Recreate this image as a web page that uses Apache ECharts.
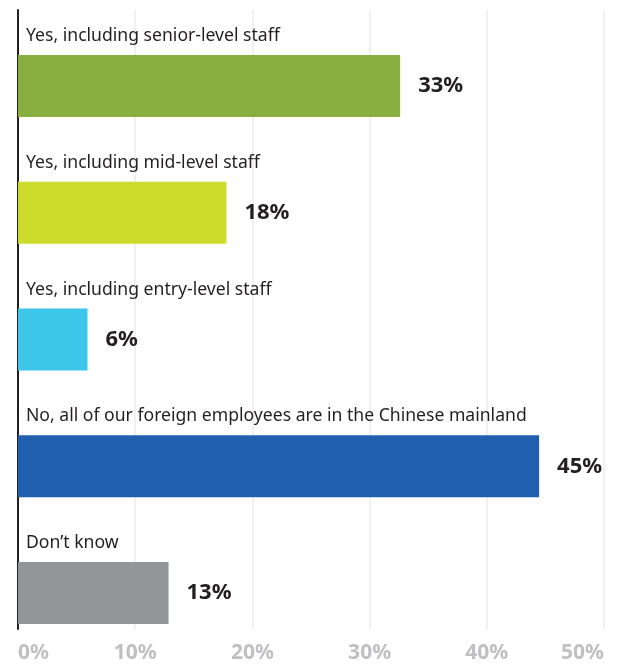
<!DOCTYPE html>
<html>
<head>
<meta charset="utf-8">
<script src="https://cdn.jsdelivr.net/npm/echarts@6/dist/echarts.min.js"></script>
<style>
  html, body { margin: 0; padding: 0; background: #ffffff; }
  #chart { width: 624px; height: 666px; }
</style>
</head>
<body>
<div id="chart"></div>
<script>
// Answers, top to bottom
const categories = [
  'Yes, including senior-level staff',
  'Yes, including mid-level staff',
  'Yes, including entry-level staff',
  'No, all of our foreign employees are in the Chinese mainland',
  'Don\u2019t know'
];
// Share of respondents, percent
const values = [33, 18, 6, 45, 13];
const barColors = ['#88AE40', '#CDDC2C', '#3DC6E9', '#1F5FAD', '#939598'];
const axisTicks = [0, 10, 20, 30, 40, 50];

const FONT = '"Noto Sans", "Open Sans", sans-serif';
const chart = echarts.init(document.getElementById('chart'), null, { renderer: 'canvas' });

chart.setOption({
  animation: false,
  backgroundColor: '#ffffff',
  grid: [
    // frame: gridlines, left rule and percent ticks
    { left: 18, right: 20, top: 10, bottom: 37, containLabel: false },
    // bars with their answer captions above them
    { left: 18, right: 27, top: 22.6, bottom: 9.6, containLabel: false }
  ],
  xAxis: [
    {
      gridIndex: 0,
      type: 'value',
      min: axisTicks[0],
      max: axisTicks[axisTicks.length - 1],
      interval: axisTicks[1] - axisTicks[0],
      axisLine: { show: false },
      axisTick: { show: false },
      splitLine: { show: true, lineStyle: { color: '#ebebeb', width: 1.5 } },
      axisLabel: {
        formatter: '{value}%',
        color: '#c0c0c2',
        fontFamily: FONT,
        fontWeight: 'bold',
        fontSize: 21,
        margin: 14,
        alignMinLabel: 'left',
        alignMaxLabel: 'right'
      }
    },
    {
      gridIndex: 1,
      type: 'value',
      min: axisTicks[0],
      max: axisTicks[axisTicks.length - 1],
      show: false
    }
  ],
  yAxis: [
    {
      gridIndex: 0,
      type: 'value',
      min: 0,
      max: 1,
      axisLine: { show: true, lineStyle: { color: '#231f20', width: 2 } },
      axisTick: { show: false },
      axisLabel: { show: false },
      splitLine: { show: false }
    },
    {
      gridIndex: 1,
      type: 'category',
      data: categories,
      inverse: true,
      axisLine: { show: false },
      axisTick: { show: false },
      splitLine: { show: false },
      axisLabel: {
        inside: true,
        margin: 8,
        align: 'left',
        verticalAlign: 'bottom',
        padding: [0, 0, 41, 0],
        color: '#231f20',
        fontFamily: FONT,
        fontSize: 17.6
      }
    }
  ],
  series: [
    {
      type: 'bar',
      xAxisIndex: 1,
      yAxisIndex: 1,
      barWidth: 62,
      data: values.map((v, i) => ({ value: v, itemStyle: { color: barColors[i] } })),
      label: {
        show: true,
        position: 'right',
        distance: 18,
        formatter: '{c}%',
        color: '#231f20',
        fontFamily: FONT,
        fontWeight: 'bold',
        fontSize: 22
      }
    }
  ]
});
</script>
</body>
</html>
